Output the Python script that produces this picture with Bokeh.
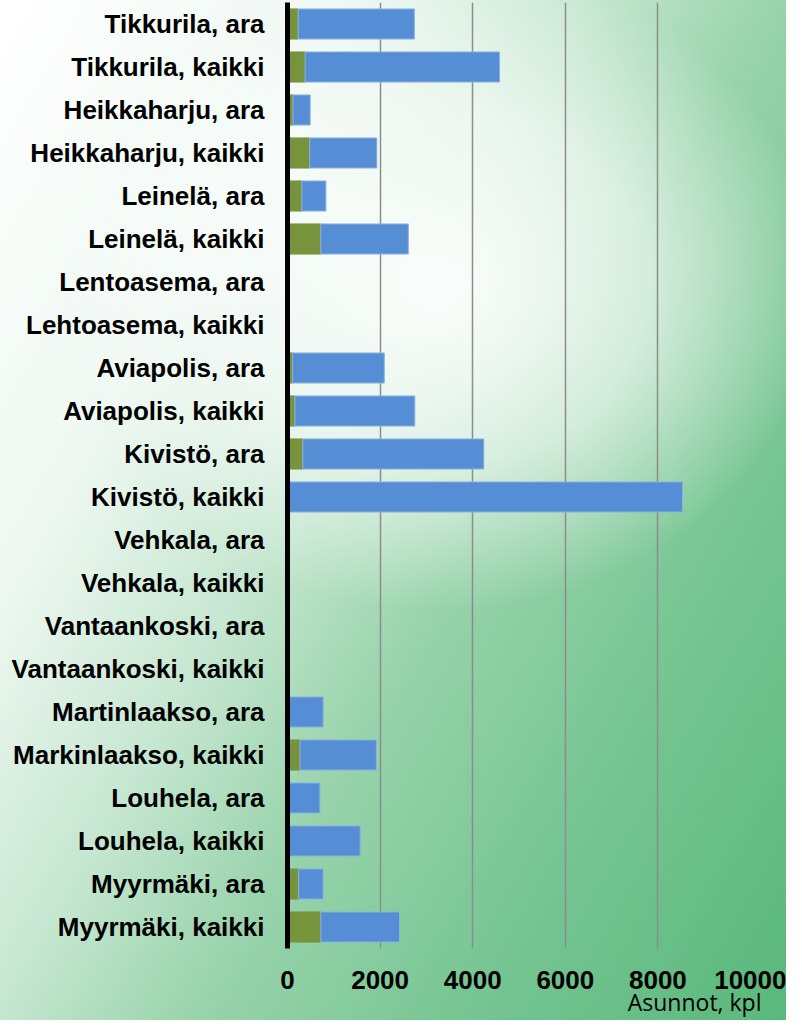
from bokeh.plotting import figure
from bokeh.models import FactorRange, Range1d, FixedTicker, Title, ColumnDataSource
from bokeh.embed import file_html
from bokeh.resources import INLINE

categories = [
    "Tikkurila, ara", "Tikkurila, kaikki",
    "Heikkaharju, ara", "Heikkaharju, kaikki",
    "Leinelä, ara", "Leinelä, kaikki",
    "Lentoasema, ara", "Lehtoasema, kaikki",
    "Aviapolis, ara", "Aviapolis, kaikki",
    "Kivistö, ara", "Kivistö, kaikki",
    "Vehkala, ara", "Vehkala, kaikki",
    "Vantaankoski, ara", "Vantaankoski, kaikki",
    "Martinlaakso, ara", "Markinlaakso, kaikki",
    "Louhela, ara", "Louhela, kaikki",
    "Myyrmäki, ara", "Myyrmäki, kaikki",
]
green_values = [230, 380, 120, 480, 310, 720, 0, 0, 110, 160, 330, 0,
                0, 0, 0, 0, 0, 270, 0, 0, 240, 720]
blue_values = [2510, 4200, 370, 1450, 520, 1890, 0, 0, 1980, 2590, 3910, 8530,
               0, 0, 0, 0, 770, 1650, 700, 1570, 530, 1700]
x_ticks = [0, 2000, 4000, 6000, 8000, 10000]
x_title = "Asunnot, kpl"

source = ColumnDataSource(data=dict(cat=categories, green=green_values, blue=blue_values))

p = figure(
    width=786, height=1020,
    y_range=FactorRange(factors=list(reversed(categories)), range_padding=0),
    x_range=Range1d(0, 10000),
    output_backend="svg", toolbar_location=None,
    min_border_left=287, min_border_right=36, min_border_top=2, min_border_bottom=72,
)
p.outline_line_color = None
p.background_fill_alpha = 0
p.border_fill_alpha = 0
p.styles = {
    "background": (
        "radial-gradient(ellipse 48% 32% at 56% 28%, rgba(255,255,255,0.95) 0%, rgba(255,255,255,0.6) 55%, rgba(255,255,255,0) 100%), "
        "linear-gradient(120deg, #ffffff 0%, #eef8f1 25%, #c4e6cf 43%, #98d3ab 57%, #74c491 78%, #5ab87b 100%)"
    )
}

p.hbar_stack(["green", "blue"], y="cat", height=0.7, source=source,
             color=["#77933c", "#558ed5"],
             line_color=["#77933c", "#8db3e2"], line_width=1)

p.xaxis.ticker = FixedTicker(ticks=x_ticks)
p.xaxis.axis_line_color = None
p.xaxis.major_tick_line_color = None
p.xaxis.minor_tick_line_color = None
p.xaxis.major_label_standoff = 16
p.xaxis.major_label_text_font = "Liberation Sans"
p.xaxis.major_label_text_font_style = "bold"
p.xaxis.major_label_text_font_size = "26px"
p.xaxis.major_label_text_color = "#000000"

p.yaxis.axis_line_color = "#000000"
p.yaxis.axis_line_width = 5
p.yaxis.major_tick_line_color = None
p.yaxis.minor_tick_line_color = None
p.yaxis.major_label_standoff = 17
p.yaxis.major_label_text_font = "Liberation Sans"
p.yaxis.major_label_text_font_style = "bold"
p.yaxis.major_label_text_font_size = "26px"
p.yaxis.major_label_text_color = "#000000"

p.ygrid.grid_line_color = None
p.xgrid.grid_line_color = "#8c8c8c"
p.xgrid.grid_line_width = 1.5

p.add_layout(Title(text=x_title, align="right", offset=-11, standoff=-15,
                   text_font="Open Sans", text_font_style="normal",
                   text_font_size="23px", text_color="#000000"), "below")

open("out.html", "w").write(file_html(p, INLINE))
